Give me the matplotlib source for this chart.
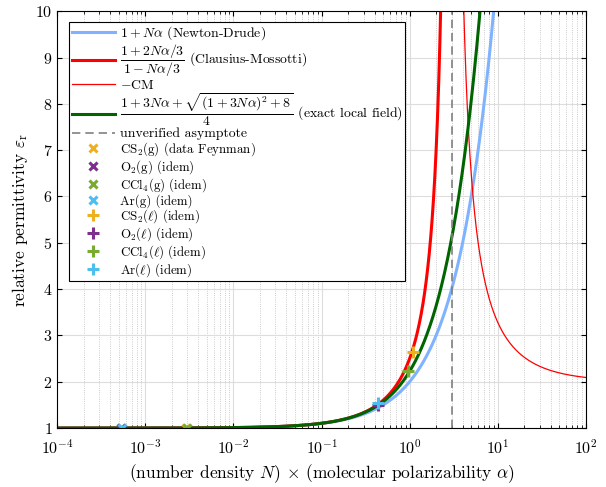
import numpy as np
import matplotlib
matplotlib.use('Agg')
import matplotlib.pyplot as plt

plt.rcParams['font.family'] = 'serif'
plt.rcParams['font.serif'] = ['cmr10']
plt.rcParams['mathtext.fontset'] = 'cm'
plt.rcParams['axes.formatter.use_mathtext'] = True

# donnees Feynman (Nalpha, eps_r)
gas_names = ['CS$_2$(g) (data Feynman)', 'O$_2$(g) (idem)', 'CCl$_4$(g) (idem)', 'Ar(g) (idem)']
gas_x = [0.0029, 0.000523, 0.0030, 0.000545]
gas_y = [1.0029, 1.000523, 1.0030, 1.000545]
liq_names = [r'CS$_2$($\ell$) (idem)', r'O$_2$($\ell$) (idem)', r'CCl$_4$($\ell$) (idem)', r'Ar($\ell$) (idem)']
liq_x = [1.09, 0.44, 0.96, 0.44]
liq_y = [2.64, 1.507, 2.24, 1.54]
colors = ['#EDB120', '#7E2F8E', '#77AC30', '#4DBEEE']
asymptote = 3.0

# courbes theoriques
x = np.logspace(-4, 2, 2000)
nd = 1 + x
x1 = x[x < asymptote]
cm = (1 + 2*x1/3) / (1 - x1/3)
x2 = x[x > asymptote]
mcm = -(1 + 2*x2/3) / (1 - x2/3)
lf = (1 + 3*x + np.sqrt((1 + 3*x)**2 + 8)) / 4

fig = plt.figure(figsize=(6.06, 4.87), dpi=100)
ax = fig.add_axes([0.0946, 0.121, 0.872, 0.856])

ax.plot(x, nd, color='#80B3FF', lw=2.2, label=r'$1+N\alpha$ (Newton-Drude)')
ax.plot(x1, cm, color='#FF0000', lw=2.2,
        label=r'$\dfrac{1+2N\alpha/3}{1-N\alpha/3}$ (Clausius-Mossotti)')
ax.plot(x2, mcm, color='#FF0000', lw=0.9, label=r'$-$CM')
ax.plot(x, lf, color='#006400', lw=2.2,
        label=r'$\dfrac{1+3N\alpha+\sqrt{(1+3N\alpha)^2+8}}{4}$ (exact local field)')
ax.axvline(asymptote, color='#808080', ls=(0, (5, 3)), lw=1.2, label='unverified asymptote')

for i in range(4):
    ax.plot(gas_x[i], gas_y[i], 'x', color=colors[i], ms=6, mew=2.2, ls='none', label=gas_names[i])
for i in range(4):
    ax.plot(liq_x[i], liq_y[i], '+', color=colors[i], ms=9, mew=2.2, ls='none', label=liq_names[i])

ax.set_xscale('log')
ax.set_xlim(1e-4, 1e2)
ax.set_ylim(1, 10)
ax.set_yticks(range(1, 11))
ax.grid(True, which='major', color='#DDDDDD', lw=0.8)
ax.grid(True, which='minor', color='#BBBBBB', ls=':', lw=0.6)
ax.tick_params(which='both', direction='in', top=True, right=True, labelsize=11.5)
ax.tick_params(axis='x', pad=7)
ax.set_xlabel(r'(number density $N$) $\times$ (molecular polarizability $\alpha$)', fontsize=12.5)
ax.set_ylabel(r'relative permittivity $\varepsilon_\mathrm{r}$', fontsize=12.5)

leg = ax.legend(loc='upper left', bbox_to_anchor=(0.023, 0.974), fontsize=9.3,
                handlelength=3.3, labelspacing=0.0, borderpad=0.2, handletextpad=0.4,
                borderaxespad=0, fancybox=False, framealpha=1, edgecolor='black')
leg.get_frame().set_linewidth(0.8)
for t in leg.get_texts()[:5]:
    t.set_fontsize(9.9)

fig.savefig('out.png', dpi=100)
